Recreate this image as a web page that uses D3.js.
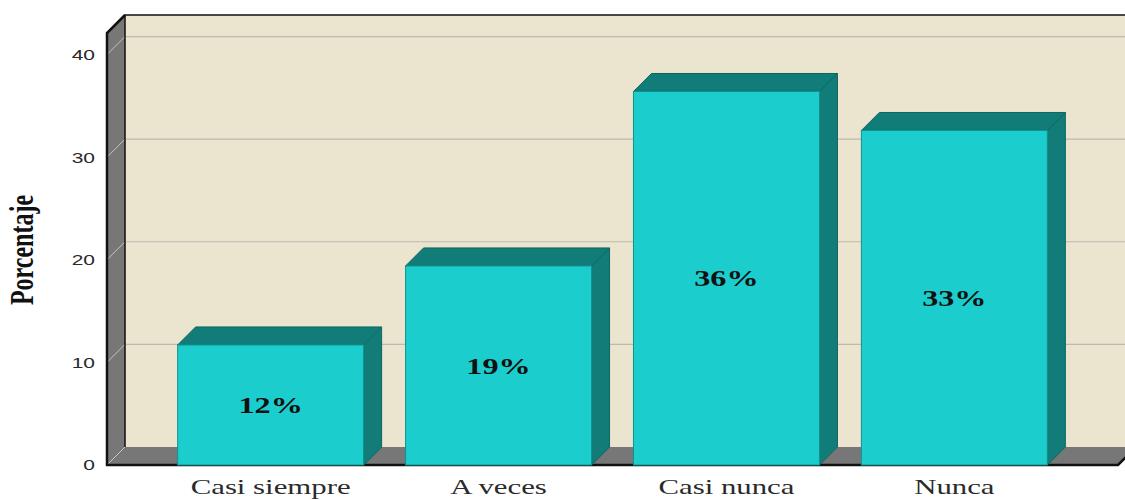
<!DOCTYPE html>
<html><head><meta charset="utf-8">
<script src="https://cdn.jsdelivr.net/npm/d3@7"></script>
<style>html,body{margin:0;padding:0;background:#fff;}svg{display:block;}</style>
</head><body>
<script>
const categories = ["Casi siempre", "A veces", "Casi nunca", "Nunca"];
const values = [11.7, 19.4, 36.4, 32.6];
const valueLabels = ["12%", "19%", "36%", "33%"];
const yTicks = [0, 10, 20, 30, 40];
const yTitle = "Porcentaje";

const W = 1125, H = 500;
const DX = 18, DY = -18;      // depth offset
const SX = 1.4;               // horizontal text stretch
const SERIF = "'Liberation Serif', 'Times New Roman', Times, serif";
const SANS = "'Liberation Sans', Arial, sans-serif";
const svg = d3.select("body").append("svg").attr("width", W).attr("height", H);

const y = d3.scaleLinear().domain([0, 42.1]).range([465, 33]);
const x = d3.scaleBand().domain(categories).range([107, 1118]).paddingInner(0.184).paddingOuter(0.31);

const y0 = y(0), yTop = y(42.1);
const xL = 107, xR = 1118;

// back wall
svg.append("rect").attr("x", xL + DX).attr("y", yTop + DY).attr("width", W).attr("height", y0 - yTop)
  .attr("fill", "#ebe4cf");
// back gridlines
svg.selectAll(".grid").data(yTicks.filter(d => d > 0)).join("line")
  .attr("x1", xL + DX).attr("x2", W + 20).attr("y1", d => y(d) + DY).attr("y2", d => y(d) + DY)
  .attr("stroke", "#bdbab2").attr("stroke-width", 1.2);
// left wall
svg.append("path").attr("d", `M${xL},${y0}L${xL},${yTop}L${xL+DX},${yTop+DY}L${xL+DX},${y0+DY}Z`)
  .attr("fill", "#777777");
// floor
svg.append("path").attr("d", `M${xL},${y0}L${xL+DX},${y0+DY}L${xR+DX},${y0+DY}L${xR},${y0}Z`)
  .attr("fill", "#777777");
// left wall tick diagonals
svg.selectAll(".wtick").data(yTicks).join("line")
  .attr("x1", xL).attr("y1", d => y(d)).attr("x2", xL + DX).attr("y2", d => y(d) + DY)
  .attr("stroke", "#c8c4bc").attr("stroke-width", 1);
// edges
const edge = svg.append("g").attr("fill", "none").attr("stroke", "#111");
edge.append("path").attr("d", `M${xL+DX},${y0+DY}L${xL+DX},${yTop+DY}L${W+20},${yTop+DY}`).attr("stroke-width", 1.5);
edge.append("path").attr("d", `M${xL+DX},${yTop+DY}L${xL},${yTop}L${xL},${y0}L${xR},${y0}L${xR+DX},${y0+DY}`).attr("stroke-width", 2.5);

// bars
const bars = svg.selectAll(".bar").data(categories.map((c, i) => ({c, v: values[i], l: valueLabels[i]}))).join("g");
bars.append("path") // side
  .attr("d", d => { const x1 = x(d.c) + x.bandwidth(), yv = y(d.v);
    return `M${x1},${yv}L${x1+DX},${yv+DY}L${x1+DX},${y0+DY}L${x1},${y0}Z`; })
  .attr("fill", "#117c78").attr("stroke", "#0d6662").attr("stroke-width", 1);
bars.append("path") // top
  .attr("d", d => { const x0 = x(d.c), x1 = x0 + x.bandwidth(), yv = y(d.v);
    return `M${x0},${yv}L${x0+DX},${yv+DY}L${x1+DX},${yv+DY}L${x1},${yv}Z`; })
  .attr("fill", "#117c78").attr("stroke", "#0d6662").attr("stroke-width", 1);
bars.append("rect") // front
  .attr("x", d => x(d.c)).attr("y", d => y(d.v)).attr("width", x.bandwidth()).attr("height", d => y0 - y(d.v))
  .attr("fill", "#1ccdcd").attr("stroke", "#12918f").attr("stroke-width", 1);
bars.append("text")
  .attr("transform", d => `translate(${x(d.c) + x.bandwidth()/2},${(y(d.v) + y0)/2}) scale(${SX},1)`)
  .attr("text-anchor", "middle").attr("dy", "0.35em")
  .style("font-family", SERIF).style("font-weight", "bold").style("font-size", "23px")
  .attr("fill", "#111").text(d => d.l);

// y tick labels
svg.selectAll(".ytl").data(yTicks).join("text")
  .attr("transform", d => `translate(95,${y(d)}) scale(${SX},1)`)
  .attr("text-anchor", "end").attr("dy", "0.36em")
  .style("font-family", SANS).style("font-size", "15px")
  .attr("fill", "#2a2a2a").text(d => d);

// category labels
svg.selectAll(".xl").data(categories).join("text")
  .attr("transform", d => `translate(${x(d) + x.bandwidth()/2},494) scale(${SX},1)`)
  .attr("text-anchor", "middle")
  .style("font-family", SERIF).style("font-size", "22px")
  .attr("fill", "#2a2a2a").text(d => d);

// y title
svg.append("text")
  .attr("transform", `translate(33,250) scale(${SX},1) rotate(-90)`)
  .attr("text-anchor", "middle")
  .style("font-family", SERIF).style("font-weight", "bold").style("font-size", "24px")
  .attr("fill", "#111").text(yTitle);
</script>
</body></html>
